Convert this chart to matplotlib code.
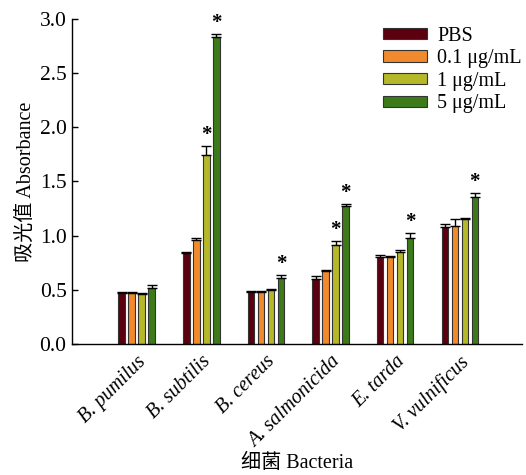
import numpy as np
import matplotlib.pyplot as plt

plt.rcParams['font.family'] = ['Liberation Serif', 'Noto Sans CJK SC']
plt.rcParams['mathtext.fontset'] = 'stix'

bacteria = ['B. pumilus', 'B. subtilis', 'B. cereus', 'A. salmonicida', 'E. tarda', 'V. vulnificus']
groups = ['PBS', '0.1 μg/mL', '1 μg/mL', '5 μg/mL']
colors = ['#5c0010', '#f08a2c', '#b5b828', '#3d7a1a']

pbs = [0.47, 0.84, 0.48, 0.60, 0.80, 1.08]
c01 = [0.47, 0.96, 0.48, 0.67, 0.80, 1.09]
c1 = [0.46, 1.74, 0.50, 0.91, 0.85, 1.15]
c5 = [0.52, 2.83, 0.61, 1.27, 0.98, 1.36]

pbs_err = [0.01, 0.005, 0.005, 0.03, 0.02, 0.03]
c01_err = [0.005, 0.02, 0.005, 0.01, 0.01, 0.06]
c1_err = [0.01, 0.09, 0.005, 0.04, 0.02, 0.01]
c5_err = [0.02, 0.03, 0.03, 0.025, 0.04, 0.03]

# significance marks: (series index, bacteria index)
stars = [(2, 1), (3, 1), (3, 2), (2, 3), (3, 3), (3, 4), (3, 5)]

values = [pbs, c01, c1, c5]
errors = [pbs_err, c01_err, c1_err, c5_err]

fs = 14.5

fig = plt.figure(figsize=(5.26, 4.75), dpi=100)
ax = fig.add_axes([0.137, 0.276, 0.855, 0.684])

x = np.arange(len(bacteria))
step = 0.155
width = 0.1
for i in range(4):
    pos = x + (i - 1.5) * step
    err = np.array(errors[i])
    ax.bar(pos, values[i], width, color=colors[i], edgecolor='#333333',
           linewidth=0.8, label=groups[i],
           yerr=[np.zeros_like(err), err], capsize=3.5,
           error_kw=dict(elinewidth=1, capthick=1, ecolor='black'))

for i, j in stars:
    xpos = x[j] + (i - 1.5) * step
    top = values[i][j] + errors[i][j]
    ax.text(xpos, top + 0.01, '*', ha='center', va='bottom', fontsize=15,
            fontweight='bold')

ax.set_xlim(-1.0, 5.96)
ax.set_ylim(0, 3.0)
ticks = np.arange(0, 3.01, 0.5)
ax.set_yticks(ticks)
ax.set_yticklabels([f'{v:.1f}' for v in ticks], fontsize=15.5)
ax.set_xticks(x)
ax.set_xticklabels(bacteria, rotation=45, ha='right', rotation_mode='anchor',
                   fontsize=fs, style='italic')
ax.tick_params(axis='x', length=0, pad=6)
ax.tick_params(axis='y', direction='in', length=4, width=1, pad=4)
for s in ['top', 'right']:
    ax.spines[s].set_visible(False)
for s in ['left', 'bottom']:
    ax.spines[s].set_linewidth(1)

ax.set_ylabel('吸光值 Absorbance', fontsize=fs)
ax.yaxis.set_label_coords(-0.08, 0.5)
ax.set_xlabel('细菌 Bacteria', fontsize=fs)
ax.xaxis.set_label_coords(0.5, -0.34)

ax.legend(loc='upper left', bbox_to_anchor=(0.728, 0.944),
          bbox_transform=fig.transFigure, frameon=False,
          fontsize=fs, handlelength=2.2, handleheight=0.5,
          labelspacing=0.18, handletextpad=0.5, borderaxespad=0, borderpad=0)

fig.savefig('out.png', dpi=100)
